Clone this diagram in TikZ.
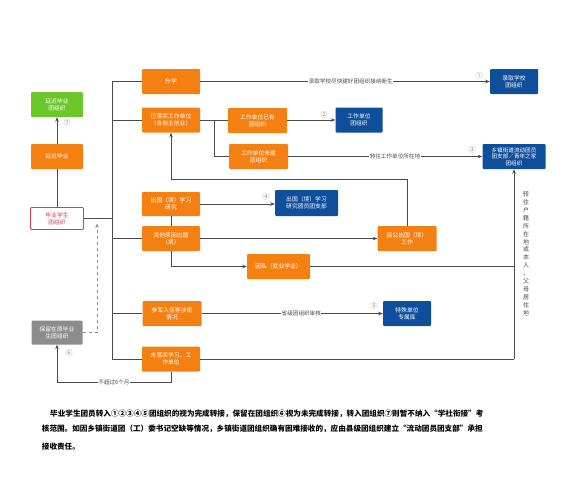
\documentclass[tikz,border=0pt]{standalone}
\usepackage{fontspec}
\setmainfont{Noto Sans CJK SC}
\usetikzlibrary{arrows.meta,calc}
\definecolor{orng}{RGB}{245,128,18}
\definecolor{blu}{RGB}{14,78,155}
\definecolor{grn}{RGB}{108,200,40}
\definecolor{gry}{RGB}{140,140,140}
\definecolor{redb}{RGB}{214,64,78}
\definecolor{lin}{RGB}{75,75,75}
\tikzset{
  base/.style={rectangle,rounded corners=1pt,inner sep=1pt,align=center,
    font=\fontsize{5.8}{7.2}\selectfont,text=white},
  obox/.style={base,fill=orng},
  bbox/.style={base,fill=blu},
  gbox/.style={base,fill=grn},
  ybox/.style={base,fill=gry},
  rbox/.style={base,draw=redb,line width=0.9pt,fill=white,text=redb},
  conn/.style={draw=lin,line width=0.85pt},
  arr/.style={conn,-{Stealth[length=4.5pt,width=3.5pt]}},
  lbl/.style={fill=white,inner sep=0.5pt,text=lin,font=\fontsize{5.6}{6.5}\selectfont},
  num/.style={text=gry,inner sep=0pt,font=\fontsize{7}{7}\selectfont},
  foot/.style={anchor=base west,inner sep=0pt,text=black,font=\fontsize{7.6}{9}\selectfont\bfseries}
}
\begin{document}
\begin{tikzpicture}[x=1pt,y=-1pt]
\useasboundingbox (0,0) rectangle (588,479);
\fill[white] (0,0) rectangle (588,479);
% left column
\node[gbox,minimum width=52pt,minimum height=25pt] (yc) at (57,104.5) {延迟毕业\\团组织};
\node[obox,minimum width=52pt,minimum height=25pt] (ys) at (57,156.5) {延迟毕业};
\node[rbox,minimum width=53pt,minimum height=22pt] (bs) at (57,218.5) {毕业学生\\团组织};
\node[ybox,minimum width=51pt,minimum height=24pt] (bl) at (57,332.5) {保留在原毕业\\生团组织};
% middle column
\node[obox,minimum width=58pt,minimum height=25pt] (sx) at (171,81.5) {升学};
\node[obox,minimum width=58pt,minimum height=25pt] (yl) at (171,120) {已落实工作单位\\（含自主创业）};
\node[obox,minimum width=59pt,minimum height=25pt] (yy) at (257.5,120.5) {工作单位已有\\团组织};
\node[obox,minimum width=59pt,minimum height=25pt] (wj) at (258.5,156.5) {工作单位未建\\团组织};
\node[obox,minimum width=58pt,minimum height=24pt] (cg) at (171,204) {出国（境）学习\\研究};
\node[obox,minimum width=58pt,minimum height=25pt] (qt) at (171,238.5) {其他原因出国\\（境）};
\node[obox,minimum width=63pt,minimum height=25pt] (ys2) at (278.5,266.5) {因私（就业学业）};
\node[obox,minimum width=59pt,minimum height=25pt] (cj) at (172,313.5) {参军入伍等涉密\\情况};
\node[obox,minimum width=58pt,minimum height=25pt] (wl) at (171,359) {未落实学习、工\\作单位};
% right column
\node[bbox,minimum width=48pt,minimum height=25pt] (lq) at (514,81.5) {录取学校\\团组织};
\node[bbox,minimum width=47pt,minimum height=25pt] (gz) at (359,120) {工作单位\\团组织};
\node[bbox,minimum width=63pt,minimum height=25pt,font=\fontsize{5.6}{6.6}\selectfont] (xz) at (514,156.5) {乡镇街道流动团员\\团支部／青年之家\\团组织};
\node[bbox,minimum width=63pt,minimum height=26pt] (cx) at (306.5,203) {出国（境）学习\\研究团员团支部};
\node[obox,minimum width=59pt,minimum height=25pt] (yg) at (407,238.5) {因公出国（境）\\工作};
\node[bbox,minimum width=48pt,minimum height=25pt] (ts) at (407,313.5) {特殊单位\\专属库};
% trunk
\coordinate (tt) at (112,81.5);
\coordinate (tb) at (112,359);
\draw[conn] (tt) -- (tb);
\draw[conn] (bs.east) -- (bs.east -| tt);
\draw[conn] (tt) -- (sx.west);
\draw[conn] (yl.west -| tt) -- (yl.west);
\draw[conn] (qt.west -| tt) -- (qt.west);
\draw[conn] (cj.west -| tt) -- (cj.west);
\draw[conn] (tb) -- (wl.west);
% left column links
\draw[conn] (bs.north) -- (ys.south);
\draw[arr] (ys.north) -- (yc.south);
\node[num] (n7) at (67,123) {⑦};
% 升学
\draw[arr] (sx.east) -- node[lbl,pos=0.52] (l1) {录取学校尽快建好团组织接纳新生} (lq.west);
\node[num] (n1) at (479,76) {①};
% 已落实
\coordinate (br) at (214,120);
\draw[conn] (yl.east) -- (yy.west |- yl.east);
\draw[conn] (br) |- (wj.west);
\draw[arr] (yy.east |- gz.west) -- (gz.west);
\node[num] (n2) at (324,115) {②};
\draw[arr] (wj.east) -- node[lbl,pos=0.55] (l3) {转往工作单位所在地} (xz.west);
\node[num] (n3) at (472,149.5) {③};
% 出国
\draw[arr] (cg.east) -- (cg.east -| cx.west);
\node[num] (n4) at (266,197) {④};
\draw[conn] (cg.south) -- (qt.north);
\draw[arr] (qt.east) -- (yg.west);
\draw[arr] (qt.south) |- (ys2.west);
\coordinate (rv) at (514,266.5);
\draw[conn] (ys2.east) -- (rv);
% 因公 feedback
\coordinate (fb) at (407,179);
\draw[arr] (yg.north) -- (fb) -| (yl.south);
% 参军
\draw[arr] (cj.east) -- node[lbl,pos=0.55] (l5) {省级团组织审核} (ts.west);
\node[num] (n5) at (374,306) {⑤};
% 未落实
\coordinate (rb) at (514,359);
\draw[conn] (wl.east) -- (rb);
\draw[arr] (rb) -- (xz.south);
\node[align=center,inner sep=0pt,text=lin,font=\fontsize{6}{7.9}\selectfont] (vt) at (526,253.5)
 {转\\往\\户\\籍\\所\\在\\地\\或\\本\\人\\、\\父\\母\\居\\住\\地};
\coordinate (bm) at (171,382.7);
\draw[arr] (wl.south) -- (bm) -| node[lbl,pos=0.25] (l6) {不超过6个月} (bl.south);
\node[num] (n6) at (69,352.5) {⑥};
\coordinate (dk) at (97,332.5);
\coordinate (dt) at (97,223.5);
\draw[conn,dashed,gry,line width=0.7pt,-{Stealth[length=4.5pt,width=3.5pt]}] (bl.east) -- (dk) -- (dt);
% footnote
\node[foot] (f1) at (50,416) {毕业学生团员转入①②③④⑤团组织的视为完成转接，保留在团组织⑥视为未完成转接，转入团组织⑦则暂不纳入“学社衔接”考};
\node[foot] (f2) at (41.7,431) {核范围。如因乡镇街道团（工）委书记空缺等情况，乡镇街道团组织确有困难接收的，应由县级团组织建立“流动团员团支部”承担};
\node[foot] (f3) at (41.7,449.5) {接收责任。};
\end{tikzpicture}
\end{document}
